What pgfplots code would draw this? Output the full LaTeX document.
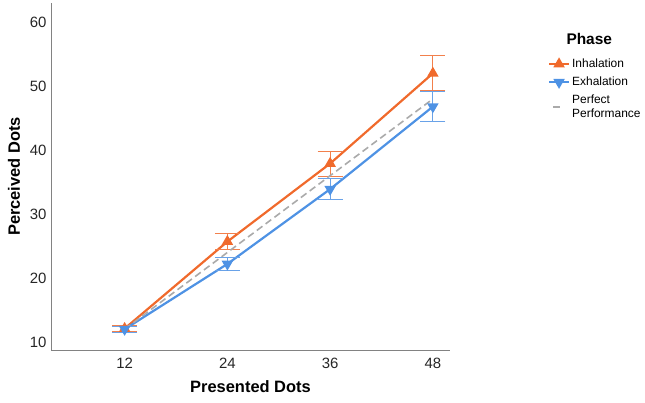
\documentclass[border=0pt]{standalone}
\usepackage{fontspec}
\setmainfont{Liberation Sans}
\usepackage{pgfplots}
\pgfplotsset{compat=1.18}
\definecolor{orng}{RGB}{240,106,44}
\definecolor{blu}{RGB}{78,146,228}
\definecolor{gry}{RGB}{170,170,170}
\definecolor{axgray}{RGB}{130,130,130}
\begin{document}
\begin{tikzpicture}
\path[use as bounding box] (-51bp,-53bp) rectangle (594bp,350bp);
\begin{axis}[
  scale only axis, width=399bp, height=347bp,
  xmin=3.4, xmax=50, ymin=8.75, ymax=63,
  axis x line*=bottom, axis y line*=left,
  axis line style={axgray, line width=0.9bp, -},
  xtick={12,24,36,48}, ytick={10,20,...,60},
  major tick length=0pt,
  tick label style={font=\fontsize{15}{18}\selectfont, text=black!85},
  /pgf/number format/assume math mode=true,
  xticklabel style={yshift=-5bp},
  yticklabel style={xshift=-1bp},
  xlabel={\textbf{Presented Dots}},
  ylabel={\textbf{Perceived Dots}},
  label style={font=\fontsize{16.5}{19}\selectfont},
  xlabel style={yshift=-5bp},
  ylabel style={yshift=3bp},
  clip=false,
  legend style={at={(rel axis cs:1.245,0.845)}, anchor=north west, draw=none,
    font=\fontsize{12}{13.5}\selectfont, inner sep=0pt, row sep=4bp,
    cells={anchor=west, align=left}, fill=none},
  legend image code/.code={\draw[mark repeat=2,mark phase=2,#1] plot coordinates {(0bp,0bp) (10bp,0bp) (20bp,0bp)};},
]
\addplot[orng, line width=2.2bp, mark=triangle*, mark size=4.5bp, mark options={solid},
  error bars/.cd, y dir=both, y explicit,
  error bar style={line width=1bp, orng!85},
  error mark options={rotate=90, mark size=12.5bp, line width=1bp, orng!85}]
  coordinates {
  (12,12.1) +- (0,0.5)
  (24,25.7) +- (0,1.2)
  (36,37.9) +- (0,1.95)
  (48,52.0) +- (0,2.75)
};
\addlegendentry{Inhalation}
\addplot[blu, line width=2.2bp, mark=triangle*, mark size=4.5bp, mark options={solid, rotate=180},
  error bars/.cd, y dir=both, y explicit,
  error bar style={line width=1bp, blu!85},
  error mark options={rotate=90, mark size=12.5bp, line width=1bp, blu!85}]
  coordinates {
  (12,12.0) +- (0,0.45)
  (24,22.2) +- (0,0.95)
  (36,33.9) +- (0,1.6)
  (48,46.8) +- (0,2.3)
};
\addlegendentry{Exhalation}
\addplot[gry, line width=1.6bp, dash pattern=on 7bp off 4bp,
  legend image code/.code={\draw[gry, line width=2.2bp] (4bp,0bp) -- (15bp,0bp);}]
  coordinates {(12,12) (24,24) (36,36) (48,48)};
\addlegendentry{Perfect\\Performance}
\node[font=\fontsize{15.5}{18}\selectfont\bfseries, anchor=center] at (rel axis cs:1.349,0.896) {Phase};
\end{axis}
\end{tikzpicture}
\end{document}
